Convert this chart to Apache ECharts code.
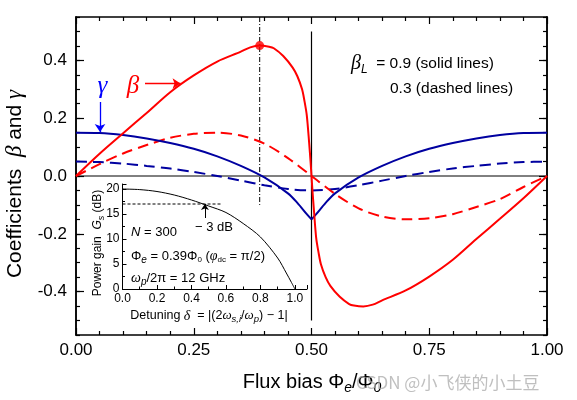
<!DOCTYPE html>
<html><head><meta charset="utf-8">
<script src="https://cdn.jsdelivr.net/npm/echarts@6/dist/echarts.min.js"></script>
<style>html,body{margin:0;padding:0;background:#fff}#c{width:577px;height:400px}</style>
</head><body><div id="c"></div>
<script>
// ---- data ----
const yMajorTicks = [-0.4, -0.2, 0, 0.2, 0.4];

// beta, beta_L = 0.9 (solid red)
const betaSolidX = [0,0.05,0.1,0.15,0.2,0.25,0.3,0.35,0.37,0.39,0.41,0.42,0.44,0.46,0.47,0.48,0.485,0.49,0.495,0.498,0.5,
                    0.502,0.505,0.51,0.515,0.52,0.53,0.54,0.56,0.58,0.59,0.61,0.63,0.65,0.7,0.75,0.8,0.85,0.9,0.95,1];
const betaSolidY = [0,0.077,0.148,0.218,0.29,0.348,0.396,0.43,0.445,0.451,0.447,0.442,0.415,0.375,0.345,0.30,0.26,0.21,0.115,0.05,0,
                    -0.05,-0.115,-0.215,-0.265,-0.305,-0.35,-0.38,-0.418,-0.443,-0.448,-0.451,-0.445,-0.43,-0.396,-0.348,-0.29,-0.218,-0.148,-0.077,0];
// beta, beta_L = 0.3 (dashed red)
const betaDashX = [0,0.05,0.1,0.15,0.2,0.25,0.3,0.35,0.4,0.45,0.5,0.55,0.6,0.65,0.7,0.75,0.8,0.85,0.9,0.95,1];
const betaDashY = [0,0.041,0.078,0.107,0.132,0.146,0.15,0.14,0.112,0.062,0,-0.062,-0.112,-0.14,-0.15,-0.146,-0.132,-0.107,-0.08,-0.038,0];
// gamma, beta_L = 0.9 (solid blue, cusp at 0.5)
const gammaSolidX = [0,0.05,0.1,0.15,0.2,0.25,0.3,0.35,0.4,0.45,0.47,0.49,0.5,0.51,0.53,0.55,0.6,0.65,0.7,0.75,0.8,0.85,0.9,0.95,1];
const gammaSolidY = [0.15,0.149,0.142,0.13,0.114,0.094,0.068,0.035,-0.005,-0.06,-0.093,-0.132,-0.15,-0.132,-0.093,-0.06,-0.005,0.035,0.068,0.094,0.114,0.13,0.142,0.149,0.15];
// gamma, beta_L = 0.3 (dashed blue)
const gammaDashX = [0,0.05,0.1,0.15,0.2,0.25,0.3,0.35,0.4,0.45,0.5,0.55,0.6,0.65,0.7,0.75,0.8,0.85,0.9,0.95,1];
const gammaDashY = [0.05,0.048,0.043,0.035,0.026,0.014,0,-0.016,-0.032,-0.045,-0.05,-0.045,-0.032,-0.016,0,0.014,0.026,0.035,0.043,0.048,0.05];
// marked operating point
const peakPoint = [0.39, 0.451];
// inset: power gain vs detuning
const gainX = [0,0.1,0.2,0.3,0.4,0.5,0.6,0.7,0.8,0.9,0.95,0.98,1.0];
const gainY = [20,19.88,19.5,18.8,17.8,16.6,15.3,13.1,10.4,6.2,3.2,1.3,0];
const gain3dBLevel = 17;

// ---- helpers ----
const zip = (xs, ys) => xs.map((x, i) => [x, ys[i]]);
const RED = '#ff0000', NAVY = '#0000a0', BLUE = '#0000ff';
const SANS = 'Liberation Sans, Arial, sans-serif';
const SERIF = 'Liberation Serif, Times New Roman, serif';
const cuspIdx = gammaSolidX.indexOf(0.5);

const chart = echarts.init(document.getElementById('c'), null, {renderer: 'canvas'});

const mainAxisCommon = {
  gridIndex: 0, type: 'value', splitLine: {show: false},
  axisLine: {show: true, onZero: false, lineStyle: {color: '#000', width: 1.5}},
};

const option = {
  backgroundColor: '#fff',
  animation: false,
  grid: [
    {left: 76, top: 17, width: 471, height: 318},
    {left: 122.5, top: 184, width: 184.5, height: 105}
  ],
  xAxis: [
    Object.assign({}, mainAxisCommon, {position: 'bottom', min: 0, max: 1, interval: 0.25,
      axisTick: {show: true, inside: true, length: 7, lineStyle: {color: '#000', width: 1.2}},
      minorTick: {show: true, splitNumber: 5, length: 4, lineStyle: {color: '#000', width: 1.2}},
      axisLabel: {show: true, margin: 7, color: '#000', fontSize: 17, fontFamily: SANS, formatter: v => v.toFixed(2)}}),
    Object.assign({}, mainAxisCommon, {position: 'top', min: 0, max: 1, interval: 0.25,
      axisTick: {show: true, inside: true, length: 7, lineStyle: {color: '#000', width: 1.2}},
      minorTick: {show: true, splitNumber: 5, length: 4, lineStyle: {color: '#000', width: 1.2}},
      axisLabel: {show: false}}),
    {gridIndex: 1, type: 'value', min: 0, max: 1.07, interval: 0.2, position: 'bottom',
      splitLine: {show: false},
      axisLine: {show: true, onZero: false, lineStyle: {color: '#000', width: 1}},
      axisTick: {show: true, inside: true, length: 4, lineStyle: {color: '#000'}},
      minorTick: {show: true, splitNumber: 2, length: 2.5, lineStyle: {color: '#000'}},
      axisLabel: {show: true, margin: 4, color: '#000', fontSize: 12, fontFamily: SANS,
        formatter: v => v > 1.01 ? '' : v.toFixed(1)}}
  ],
  yAxis: [
    Object.assign({}, mainAxisCommon, {position: 'left', min: -0.55, max: 0.55, interval: 0.05,
      axisTick: {show: true, inside: true, length: 4, lineStyle: {color: '#000', width: 1.2}},
      axisLabel: {show: false}}),
    Object.assign({}, mainAxisCommon, {position: 'left', min: -0.55, max: 0.55, interval: 0.05,
      axisTick: {show: true, inside: true, length: 8, customValues: yMajorTicks, lineStyle: {color: '#000', width: 1.2}},
      axisLabel: {show: true, margin: 9, color: '#000', fontSize: 17, fontFamily: SANS,
        customValues: yMajorTicks, formatter: v => v.toFixed(1)}}),
    Object.assign({}, mainAxisCommon, {position: 'right', min: -0.55, max: 0.55, interval: 0.05,
      axisTick: {show: true, inside: true, length: 4, lineStyle: {color: '#000', width: 1.2}},
      axisLabel: {show: false}}),
    Object.assign({}, mainAxisCommon, {position: 'right', min: -0.55, max: 0.55, interval: 0.05,
      axisTick: {show: true, inside: true, length: 8, customValues: yMajorTicks, lineStyle: {color: '#000', width: 1.2}},
      axisLabel: {show: false}}),
    {gridIndex: 1, type: 'value', min: 0, max: 21, interval: 5, position: 'left',
      splitLine: {show: false},
      axisLine: {show: true, onZero: false, lineStyle: {color: '#000', width: 1}},
      axisTick: {show: true, inside: true, length: 4, lineStyle: {color: '#000'}},
      minorTick: {show: true, splitNumber: 2, length: 2.5, lineStyle: {color: '#000'}},
      axisLabel: {show: true, margin: 3, color: '#000', fontSize: 12, fontFamily: SANS}}
  ],
  series: [
    // reference lines
    {type: 'line', xAxisIndex: 0, yAxisIndex: 0, data: [[0, 0], [1, 0]], symbol: 'none',
      lineStyle: {color: '#000', width: 1}, z: 1, silent: true},
    {type: 'line', xAxisIndex: 0, yAxisIndex: 0, data: [[0.5, 0.5], [0.5, -0.5]], symbol: 'none',
      lineStyle: {color: '#000', width: 1.2}, z: 1, silent: true},
    {type: 'line', xAxisIndex: 0, yAxisIndex: 0, data: [[peakPoint[0], 0.55], [peakPoint[0], -0.1]], symbol: 'none',
      lineStyle: {color: '#000', width: 1, type: [5, 2, 1, 2]}, z: 1, silent: true},
    // curves
    {type: 'line', xAxisIndex: 0, yAxisIndex: 0, data: zip(gammaDashX, gammaDashY), symbol: 'none',
      smooth: 0.3, lineStyle: {color: NAVY, width: 2, type: [11, 6]}, z: 3},
    {type: 'line', xAxisIndex: 0, yAxisIndex: 0, data: zip(betaDashX, betaDashY), symbol: 'none',
      smooth: 0.3, lineStyle: {color: RED, width: 2, type: [11, 6]}, z: 3},
    {type: 'line', xAxisIndex: 0, yAxisIndex: 0,
      data: zip(gammaSolidX.slice(0, cuspIdx + 1), gammaSolidY.slice(0, cuspIdx + 1)), symbol: 'none',
      smooth: 0.3, lineStyle: {color: NAVY, width: 2}, z: 4},
    {type: 'line', xAxisIndex: 0, yAxisIndex: 0,
      data: zip(gammaSolidX.slice(cuspIdx), gammaSolidY.slice(cuspIdx)), symbol: 'none',
      smooth: 0.3, lineStyle: {color: NAVY, width: 2}, z: 4},
    {type: 'line', xAxisIndex: 0, yAxisIndex: 0, data: zip(betaSolidX, betaSolidY), symbol: 'none',
      smooth: 0.3, lineStyle: {color: RED, width: 2}, z: 5},
    {type: 'scatter', xAxisIndex: 0, yAxisIndex: 0, data: [peakPoint], symbolSize: 9,
      itemStyle: {color: RED}, z: 6},
    // annotation arrows
    {type: 'lines', coordinateSystem: 'cartesian2d', xAxisIndex: 0, yAxisIndex: 0,
      symbol: ['none', 'arrow'], symbolSize: 8, z: 6,
      data: [
        {coords: [[0.051, 0.256], [0.051, 0.152]], lineStyle: {color: BLUE, width: 1.3, opacity: 1}},
        {coords: [[0.1465, 0.32], [0.222, 0.32]], lineStyle: {color: RED, width: 1.3, opacity: 1}}
      ]},
    // inset
    {type: 'line', xAxisIndex: 2, yAxisIndex: 4, data: zip(gainX, gainY), symbol: 'none',
      smooth: 0.3, lineStyle: {color: '#000', width: 1}, z: 3},
    {type: 'line', xAxisIndex: 2, yAxisIndex: 4, data: [[0, gain3dBLevel], [0.575, gain3dBLevel]], symbol: 'none',
      lineStyle: {color: '#000', width: 1, type: [3, 2]}, z: 3},
    {type: 'lines', coordinateSystem: 'cartesian2d', xAxisIndex: 2, yAxisIndex: 4,
      symbol: ['none', 'arrow'], symbolSize: 6, z: 4,
      data: [{coords: [[0.478, 14.2], [0.478, 17.0]], lineStyle: {color: '#000', width: 1, opacity: 1}}]}
  ],
  graphic: [
    // main axis titles
    {type: 'text', x: 15, y: 184, rotation: Math.PI / 2,
      style: {text: 'Coefficients  {g|β} and {g|γ}', fontSize: 21, fontFamily: SANS, fill: '#000',
        align: 'center', verticalAlign: 'middle',
        rich: {g: {fontSize: 23, fontFamily: SERIF, fontStyle: 'italic', fill: '#000'}}}},
    {type: 'text', x: 312, y: 382,
      style: {text: 'Flux bias Φ{s|e}/Φ{s|0}', fontSize: 20, fontFamily: SANS, fill: '#000',
        align: 'center', verticalAlign: 'middle',
        rich: {s: {fontSize: 14, fontFamily: SANS, fontStyle: 'italic', padding: [12, 0, 0, 0], fill: '#000'}}}},
    // curve labels
    {type: 'text', x: 102.5, y: 86,
      style: {text: 'γ', fontSize: 25, fontFamily: SERIF, fontStyle: 'italic', fill: BLUE, align: 'center', verticalAlign: 'middle'}},
    {type: 'text', x: 133, y: 86,
      style: {text: 'β', fontSize: 25, fontFamily: SERIF, fontStyle: 'italic', fill: RED, align: 'center', verticalAlign: 'middle'}},
    // beta_L legend
    {type: 'text', x: 351, y: 64,
      style: {text: '{b|β}{l|L}  = 0.9 (solid lines)', fontSize: 15.5, fontFamily: SANS, fill: '#000',
        align: 'left', verticalAlign: 'middle',
        rich: {b: {fontSize: 20, fontFamily: SERIF, fontStyle: 'italic', fill: '#000'},
               l: {fontSize: 12, fontFamily: SANS, fontStyle: 'italic', padding: [12, 0, 0, 0], fill: '#000'}}}},
    {type: 'text', x: 390, y: 89,
      style: {text: '0.3 (dashed lines)', fontSize: 15.5, fontFamily: SANS, fill: '#000', align: 'left', verticalAlign: 'middle'}},
    // inset texts
    {type: 'text', x: 98, y: 243, rotation: Math.PI / 2,
      style: {text: 'Power gain  {i|G}{s|s} (dB)', fontSize: 12, fontFamily: SANS, fill: '#000',
        align: 'center', verticalAlign: 'middle',
        rich: {i: {fontSize: 12, fontFamily: SANS, fontStyle: 'italic', fill: '#000'},
               s: {fontSize: 9, fontFamily: SANS, fontStyle: 'italic', padding: [7, 0, 0, 0], fill: '#000'}}}},
    {type: 'text', x: 209, y: 316,
      style: {text: 'Detuning {d|δ}  = |(2{i|ω}{s|s,i}/{i|ω}{s|p}) − 1|', fontSize: 12.5, fontFamily: SANS, fill: '#000',
        align: 'center', verticalAlign: 'middle',
        rich: {d: {fontSize: 14, fontFamily: SERIF, fontStyle: 'italic', fill: '#000'},
               i: {fontSize: 13, fontFamily: SERIF, fontStyle: 'italic', fill: '#000'},
               s: {fontSize: 9.5, fontFamily: SANS, fontStyle: 'italic', padding: [7, 0, 0, 0], fill: '#000'}}}},
    {type: 'text', x: 131, y: 232,
      style: {text: '{i|N} = 300', fontSize: 13, fontFamily: SANS, fill: '#000', align: 'left', verticalAlign: 'middle',
        rich: {i: {fontSize: 13, fontFamily: SANS, fontStyle: 'italic', fill: '#000'}}}},
    {type: 'text', x: 131, y: 256,
      style: {text: 'Φ{s|e} = 0.39Φ{z|0} ({i|φ}{z|dc} = π/2)', fontSize: 13, fontFamily: SANS, fill: '#000',
        align: 'left', verticalAlign: 'middle',
        rich: {i: {fontSize: 14, fontFamily: SERIF, fontStyle: 'italic', fill: '#000'},
               s: {fontSize: 10, fontFamily: SANS, fontStyle: 'italic', padding: [8, 0, 0, 0], fill: '#000'},
               z: {fontSize: 8, fontFamily: SANS, padding: [8, 0, 0, 0], fill: '#000'}}}},
    {type: 'text', x: 131, y: 278,
      style: {text: '{i|ω}{s|p}/2π = 12 GHz', fontSize: 13, fontFamily: SANS, fill: '#000', align: 'left', verticalAlign: 'middle',
        rich: {i: {fontSize: 14, fontFamily: SERIF, fontStyle: 'italic', fill: '#000'},
               s: {fontSize: 10, fontFamily: SANS, fontStyle: 'italic', padding: [8, 0, 0, 0], fill: '#000'}}}},
    {type: 'text', x: 195, y: 227,
      style: {text: '− 3 dB', fontSize: 13, fontFamily: SANS, fill: '#000', align: 'left', verticalAlign: 'middle'}},
    // watermark
    {type: 'text', x: 356, y: 383,
      style: {text: 'CSDN @小飞侠的小土豆', fontSize: 17, fontFamily: 'Noto Sans CJK SC, sans-serif',
        fill: 'rgba(170,170,170,0.75)', align: 'left', verticalAlign: 'middle'}}
  ]
};
chart.setOption(option);
</script></body></html>
